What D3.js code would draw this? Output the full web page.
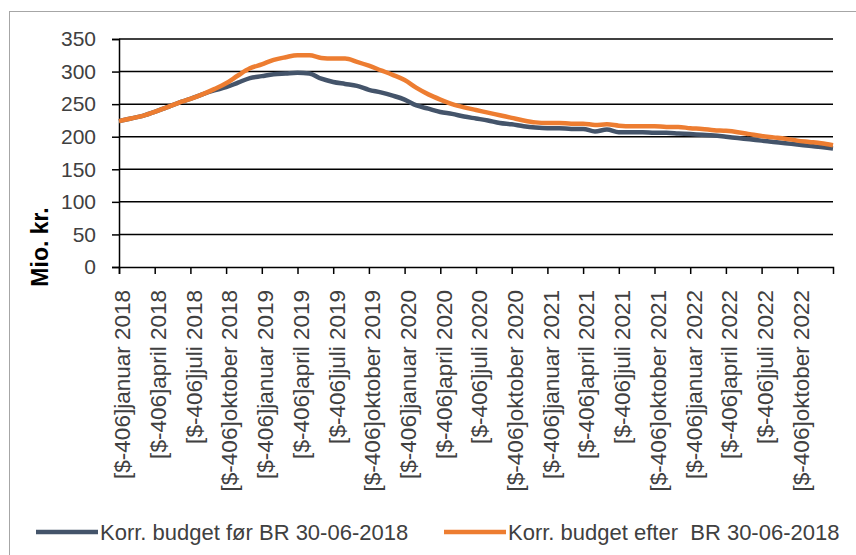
<!DOCTYPE html>
<html>
<head>
<meta charset="utf-8">
<script src="https://cdn.jsdelivr.net/npm/d3@7"></script>
<style>
  body { margin: 0; background: #fff; }
  svg text { font-family: "Liberation Sans", Arial, sans-serif; white-space: pre; }
</style>
</head>
<body>
<div id="graf"></div>
<script>
//----------------------------------------------------------------
// data : månedlige værdier (mio. kr.) jan 2018 - jan 2023
//----------------------------------------------------------------
var maaneder = ["januar", "april", "juli", "oktober"];
var aar = [2018, 2019, 2020, 2021, 2022];
var yTicks = [0, 50, 100, 150, 200, 250, 300, 350];

var serieNavne = ["Korr. budget før BR 30-06-2018", "Korr. budget efter  BR 30-06-2018"];
var serieFarver = ["#44546a", "#ed7d31"];

var foer = [224, 228, 232, 238, 245, 252, 258, 265, 271, 276, 283, 290,
            293, 296, 297, 298, 297, 289, 284, 281, 278, 272, 268, 263,
            257, 248, 243, 238, 235, 231, 228, 225, 221, 219, 216, 214,
            213, 213, 212, 212, 208, 211, 207, 207, 207, 206, 206, 205,
            204, 203, 202, 200, 198, 196, 194, 192, 190, 188, 186, 184, 182];
var efter = [224, 228, 232, 238, 245, 252, 258, 265, 273, 282, 294, 305,
             311, 318, 322, 325, 325, 321, 320, 320, 315, 309, 302, 295,
             287, 275, 265, 257, 250, 245, 241, 237, 233, 229, 225, 222,
             221, 221, 220, 220, 218, 219, 217, 216, 216, 216, 215, 215,
             213, 212, 210, 209, 207, 204, 201, 199, 197, 194, 192, 190, 187];

//----------------------------------------------------------------
// svg
//----------------------------------------------------------------
var largeur = 856, hauteur = 555;
var svg = d3.select("#graf").append("svg")
  .attr("width", largeur)
  .attr("height", hauteur);

// ramme
svg.append("rect")
  .attr("x", 9.5).attr("y", 11.5)
  .attr("width", 880).attr("height", 580)
  .attr("fill", "none")
  .attr("stroke", "#a6a6a6")
  .attr("stroke-width", 1);

var gauche = 119, droite = 833, haut = 39, bas = 267;

var x = d3.scaleLinear().domain([0, 60]).range([gauche, droite]);
var y = d3.scaleLinear().domain([0, 350]).range([bas, haut]);

// etiketter til x-aksen
var tickLabels = [];
aar.forEach(function(a){
  maaneder.forEach(function(m){ tickLabels.push("[$-406]" + m + " " + a); });
});
var tickPos = tickLabels.map(function(d, i){ return i * 3; });

// gitterlinjer
svg.append("g")
  .selectAll("line")
  .data(yTicks.slice(1))
  .enter().append("line")
  .attr("x1", gauche).attr("x2", droite)
  .attr("y1", function(d){ return y(d); })
  .attr("y2", function(d){ return y(d); })
  .attr("stroke", "#000")
  .attr("stroke-width", 1.5);

// y-akse
var yAxe = svg.append("g")
  .attr("transform", "translate(" + gauche + ",0)")
  .call(d3.axisLeft(y).tickValues(yTicks).tickSize(7).tickPadding(16));
yAxe.select(".domain").attr("stroke", "#000").attr("stroke-width", 1.5);
yAxe.selectAll(".tick line").attr("stroke", "#000").attr("stroke-width", 1.5);
yAxe.selectAll(".tick text")
  .attr("font-size", "21px")
  .attr("fill", "#404040")
  .attr("font-family", "Liberation Sans");

// x-akse
var xAxe = svg.append("g")
  .attr("transform", "translate(0," + bas + ")")
  .call(d3.axisBottom(x).tickValues(tickPos).tickSize(7)
        .tickFormat(function(d, i){ return tickLabels[i]; }));
xAxe.select(".domain").attr("stroke", "#000").attr("stroke-width", 1.5);
xAxe.selectAll(".tick line").attr("stroke", "#000").attr("stroke-width", 1.5);
xAxe.selectAll(".tick text")
  .attr("font-size", "22.5px")
  .attr("font-family", "Liberation Sans")
  .attr("fill", "#404040")
  .attr("text-anchor", "end")
  .attr("transform", "rotate(-90)")
  .attr("x", -23)
  .attr("y", 3)
  .attr("dy", "0.35em")
  .attr("dx", 0);

// titel på y-aksen
svg.append("text")
  .attr("transform", "translate(48,247) rotate(-90)")
  .attr("text-anchor", "middle")
  .attr("font-size", "23px")
  .attr("font-weight", "bold")
  .attr("fill", "#000")
  .text("Mio. kr.");

//----------------------------------------------------------------
// linjer
//----------------------------------------------------------------
var ligne = d3.line()
  .x(function(d, i){ return x(i); })
  .y(function(d){ return y(d); })
  .curve(d3.curveMonotoneX);

[foer, efter].forEach(function(serie, k){
  svg.append("path")
    .datum(serie)
    .attr("fill", "none")
    .attr("stroke", serieFarver[k])
    .attr("stroke-width", 4.5)
    .attr("d", ligne);
});

//----------------------------------------------------------------
// legende
//----------------------------------------------------------------
var legX = [36, 444];
serieNavne.forEach(function(nom, k){
  var lg = svg.append("g").attr("transform", "translate(" + legX[k] + ",532)");
  lg.append("line")
    .attr("x1", 0).attr("x2", 62)
    .attr("y1", 0).attr("y2", 0)
    .attr("stroke", serieFarver[k])
    .attr("stroke-width", 4.5);
  lg.append("text")
    .attr("x", 64).attr("y", 0)
    .attr("dy", "0.35em")
    .attr("font-size", "22px")
    .attr("fill", "#404040")
    .text(nom);
});
</script>
</body>
</html>
